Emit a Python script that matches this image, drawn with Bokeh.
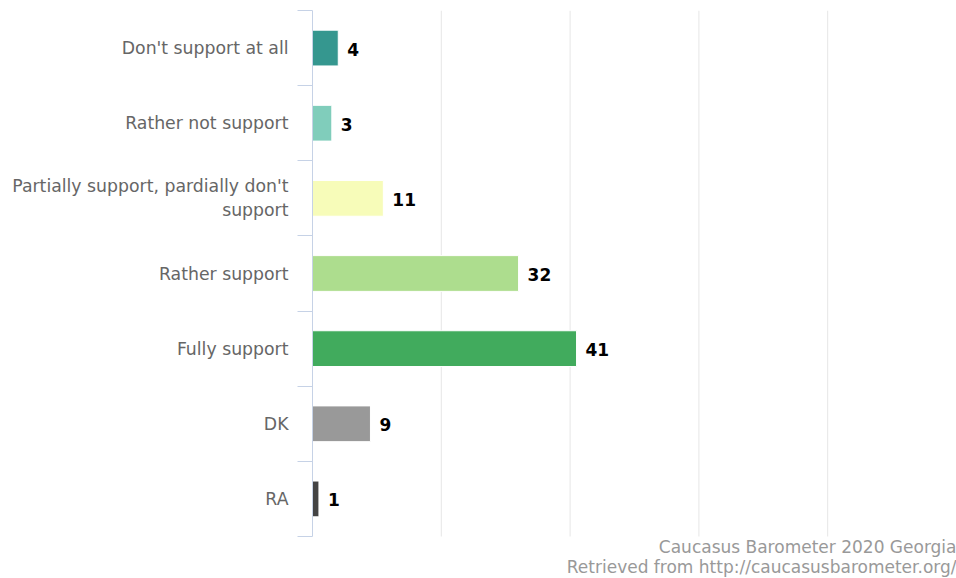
from bokeh.plotting import figure
from bokeh.models import Range1d, FixedTicker, ColumnDataSource
from bokeh.embed import file_html
from bokeh.resources import INLINE
from bokeh.core.properties import value

categories = [
    "Don't support at all",
    "Rather not support",
    "Partially support, pardially don't\nsupport",
    "Rather support",
    "Fully support",
    "DK",
    "RA",
]
values = [4, 3, 11, 32, 41, 9, 1]
colors = ["#35978f", "#80cdbb", "#f7fcb9", "#addd8e", "#41ab5d", "#999999", "#444444"]
grid_ticks = [20, 40, 60, 80]
credit_lines = ["Caucasus Barometer 2020 Georgia", "Retrieved from http://caucasusbarometer.org/"]

W, H = 956, 578
TOP, PLOT_BOTTOM, LEFT = 10, 536, 312
n = len(categories)
ppu = (PLOT_BOTTOM - TOP) / n          # pixels per category
ypos = [n - i - 0.5 for i in range(n)]

src = ColumnDataSource(dict(y=ypos, v=values, c=colors, lab=[str(v) for v in values]))

p = figure(width=W, height=H, output_backend="svg", toolbar_location=None,
           x_range=Range1d(0, 100), y_range=Range1d(-(H - PLOT_BOTTOM) / ppu, n),
           x_axis_type=None, y_axis_location="left",
           min_border_left=LEFT, min_border_right=0, min_border_top=TOP, min_border_bottom=0)
p.outline_line_color = None
p.background_fill_color = "white"
p.border_fill_color = "white"
p.ygrid.visible = False

# vertical grid lines limited to the category band
p.segment(x0=grid_ticks, x1=grid_ticks, y0=[0] * len(grid_ticks), y1=[n] * len(grid_ticks),
          line_color="#e6e6e6", line_width=1)

ax = p.yaxis[0]
ax.bounds = (0, n)
ax.ticker = FixedTicker(ticks=ypos, minor_ticks=list(range(n + 1)))
ax.major_label_overrides = {y: c for y, c in zip(ypos, categories)}
ax.major_tick_out = 0
ax.major_tick_in = 0
ax.minor_tick_out = 15
ax.minor_tick_in = 0
ax.minor_tick_line_color = "#c6d2e6"
ax.axis_line_color = "#c6d2e6"
ax.major_label_standoff = 9
ax.major_label_text_font = "DejaVu Sans"
ax.major_label_text_font_size = "17.3px"
ax.major_label_text_color = "#666666"

p.hbar(y="y", left=0, right="v", height=0.476, fill_color="c", line_color="white",
       line_width=1, source=src)
p.text(x="v", y="y", text="lab", x_offset=9, y_offset=1, text_baseline="middle",
       text_align="left", text_font=value("DejaVu Sans"), text_font_style="bold",
       text_font_size="17px", text_color="#000000", source=src)

credit_y = [-(546 - PLOT_BOTTOM) / ppu, -(566.5 - PLOT_BOTTOM) / ppu]
p.text(x=[100, 100], y=credit_y, text=credit_lines, text_align="right",
       text_baseline="middle", text_font=value("DejaVu Sans"),
       text_font_size="17px", text_color="#999999")

open("out.html", "w").write(file_html(p, INLINE))
